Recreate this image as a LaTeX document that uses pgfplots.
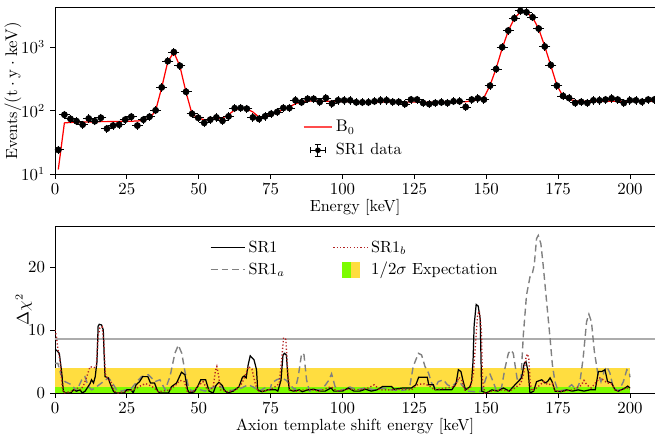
\documentclass[border=0pt]{standalone}
\usepackage{pgfplots}
\usepackage{pgfplotstable}
\pgfplotsset{compat=1.18}
\definecolor{myyellow}{RGB}{255,221,64}
\definecolor{mygreen}{RGB}{124,252,0}
\definecolor{sronebc}{RGB}{178,34,34}
\definecolor{sroneac}{RGB}{128,128,128}
\newcommand{\fs}{\fontsize{10.5}{12.6}\selectfont}

\pgfplotstableread{
x y b
1.15 24 11.8
3.27 86 64
5.38 74 65
7.50 68 65.5
9.61 60 66
11.73 75 66
13.84 68 66.5
15.96 77 67
18.07 52 67
20.19 58 67.5
22.30 60 67.5
24.42 72 68
26.53 80 68
28.65 58 68.5
30.76 72 70
32.88 80 75
34.99 101 100
37.11 232 230
39.22 603 590
41.34 836 830
43.45 509 500
45.57 198 195
47.68 89 88
49.80 77 76
51.91 64 72
54.03 72 72
56.14 78 74
58.26 69 77
60.37 81 85
62.49 109 104
64.60 110 108
66.72 107 107
68.83 78 95
70.95 74 79
73.06 81 80
75.18 89 86
77.29 95 94
79.41 110 104
81.52 110 115
83.64 145 128
85.75 135 138
87.87 153 142
89.98 153 142
92.10 137 141
94.21 158 140
96.33 129 140
98.44 145 139
100.56 145 139
102.67 145 138
104.79 135 138
106.90 135 137
109.02 135 137
111.13 140 137
113.25 145 137
115.36 145 137
117.48 137 136
119.59 137 136
121.71 127 136
123.82 149 136
125.94 149 136
128.05 132 136
130.17 127 136
132.28 132 136
134.40 135 136
136.51 132 137
138.63 140 137
140.74 140 138
142.86 114 138
144.97 149 142
147.09 156 148
149.20 149 160
151.32 247 250
153.43 452 460
155.55 1000 960
157.66 1827 1800
159.78 2860 2850
161.89 3725 3600
164.01 3550 3500
166.12 2965 2950
168.24 1965 1950
170.35 1024 1030
172.47 522 510
174.58 247 250
176.70 170 168
178.81 158 150
180.93 132 143
183.04 137 140
185.16 132 140
187.27 145 140
189.39 145 140
191.50 149 140
193.62 156 140
195.73 149 140
197.85 132 140
199.96 145 140
202.08 145 140
204.19 138 140
206.31 149 140
208.42 149 140
}\topdata

\pgfplotstableread{
x v
0 6.9
0.5 6.8
1.5 6.3
2.3 3.4
2.9 0.3
3.5 0
5.5 0
6.4 0.5
7.5 0.3
8.7 0.5
9.5 0
10.5 0.3
11.2 0.8
12.2 1.5
12.7 2.1
13.4 1.6
14.0 2.6
14.6 5
15.0 10.6
15.4 10.9
16.2 10.8
16.8 10.0
17.1 6
17.4 2.6
18.5 2.4
19.1 1.6
20.3 0.3
21 0
24 0
25 0.5
26.5 0.5
27.2 0
28.2 1.3
29.4 1.8
30.5 2.6
32.3 2.6
33.2 1.6
34.6 1.6
35.7 0.3
36.5 0
39.5 0
40.5 1.0
42.3 1.6
43.2 2.5
44.0 3.3
45.2 2.9
46.1 0.5
46.8 0
48.5 0.2
49.8 1.2
50.7 2.1
52.4 2.1
53.6 0.3
55 0
56 1.2
57 1.7
58.2 1.2
58.8 0.5
60 0
62 0.3
64 1.0
65.2 2.5
65.8 2.7
66.5 2.4
67.2 4.5
67.9 5.9
69.2 5.3
70.1 3.7
70.5 0.5
72 0.2
74 0.5
76.8 0.5
77.5 0.3
78.6 2
79.3 6.0
79.8 6.3
80.5 6.0
81 2.6
81.5 0.5
83 0.3
85 0.5
86 0.2
88 0.5
90 0.6
92 0.3
94 0.3
96 0.8
97 0.3
100 0.3
102 0.8
104 0.3
106 0.3
108 0.6
110 0.3
112 0.5
114 1.05
117 1.05
118 0.6
121 0.8
124 0.8
125.5 1.3
126.5 2.5
129.5 2.5
130 1.3
131.6 1.3
132.2 0.5
135 0.5
138 0.5
139.5 1.5
140.3 3.7
141.2 3.4
142 1.8
142.8 0.5
144.3 1.0
144.9 1.8
145.4 5
145.8 10.8
146.5 14.05
147.2 13.8
147.9 11.8
148.2 5
148.4 0.3
150 0
152 0.5
154 0.3
156 0.8
158 0.3
160 1.3
161.5 2
162.3 2.4
163.2 4.7
163.8 5.0
164.6 3.4
165.2 0
166.5 0.3
167.5 1.8
169.3 2.1
170.4 1.6
171.3 1.8
172.2 2.4
172.9 1.8
173.9 0.3
176 0.2
178 0.5
180 0.3
182 0.5
184 0.3
186 0.5
187.9 0.5
188.4 1.8
189 3.4
190.2 3.4
191.3 3.7
192.2 1.8
193.6 1.6
194.8 0.5
196 0.3
198.3 0.8
199.2 1.1
200 0.8
}\srone

\pgfplotstableread{
x v
0 4.7
1.0 4.7
2 3
3.5 1.8
5.8 1.3
7.5 0.3
9.3 2.1
10.4 2.6
11.6 1.05
12.8 0.5
13.9 0.8
16.8 1.8
18.6 2.4
19.7 1.8
21.4 0.5
23.2 0.3
26.7 0.8
28.5 1.8
30.1 2.6
32.5 2.9
34.8 1.8
36.5 2.1
38.3 0.5
40 2.6
41.7 6.3
42.9 7.6
44.1 6.3
45.2 3.4
46.4 1.05
47.5 0.3
49.9 0.6
52.2 0.3
54.5 0.8
56.8 1.3
59.1 0.5
61.4 0.4
64.9 0.8
67.2 1.3
69 0.95
71 0.3
73 0.8
74.8 0.5
75.4 1.6
77.1 2.1
78.8 2.4
80.5 2.0
81.7 1.3
83.5 0.5
84.6 2.6
85.8 6.3
86.6 6.1
87.5 2.1
88.5 0.3
91 0.5
93 0.6
95.2 2.0
96.2 3.05
97.4 1.05
98.5 0.3
100 0.5
102.6 0.95
105 0.5
108 0.8
111 0.5
114 0.8
117 0.5
120 0.4
122 0.5
123.5 1.3
124.6 4.2
126.4 6.3
127.5 6.05
128.7 4.2
129.9 3.2
131 1.6
132.2 0.8
133.3 1.8
135.1 2.1
136.5 1.3
138 1
140.3 2.0
142 1.0
143.7 0.3
146 0.2
148.4 0.3
150.1 2.6
151.3 3.0
152.4 1.8
153.6 0.3
155.3 0.8
156.5 3.9
157.7 6.3
158.6 6.8
159.4 6.3
160 4.5
160.9 1.8
162.1 2.4
162.9 9.2
164 15.5
165.2 18.4
166 18.9
166.7 20.3
167.5 24.5
168.1 25.0
169 23.7
169.8 20.3
171 14.5
172.2 8.7
173 4.5
173.9 1.8
175 0.3
177.4 0.5
179.7 1.3
181.4 0.5
182.6 1.8
183.7 5.5
184.9 11.3
185.7 12.5
186.6 11.3
187.6 6.6
188.7 3.4
189.9 1.8
191 3.4
191.9 4.2
193 3.2
194.2 0.8
196 0.3
197.7 1.8
198.9 3.7
199.7 3.4
200 2.5
}\sronea

\pgfplotstableread{
x v
0 10
0.5 9
1.0 7
1.8 5
2.5 1
3 0
6 0.3
8 0.8
9 0.5
10 1.3
11 2.5
12.2 4.2
13.5 4.0
14.4 4.2
15 9
15.6 10.3
16.4 10.5
17 8
17.5 3
18.5 2.1
19.5 1.8
20.5 0.3
22 0
25 0.3
27 0.5
28.5 0.8
30 1.2
31.5 1.5
33 1.2
34.5 0.8
36 0.2
40 0.5
42 1.3
43.5 2.0
45 1.8
46 0.3
48 0.2
50 1.2
51.5 1.8
53 0.5
55 0.8
55.8 3.5
56.3 4.2
57 2.5
57.5 0.5
60 0.2
63 0.5
65 1.5
66.5 3.2
67.3 4.2
68.5 3.8
69.5 1.8
70.5 0.3
73 0.3
76 0.8
78 1.5
79 6
79.5 8.8
80.3 8.5
81 3
81.7 0.5
84 0.3
88 0.6
92 0.3
96 1.0
98 0.3
102 0.6
106 0.5
109 0.8
111 1.3
113 0.5
117 0.5
121 0.6
124 0.5
126 1.3
128 1.5
130 1.2
132 0.5
136 0.8
139 1
140.5 2.5
141.5 2.0
142.5 0.5
144.5 0.8
145.5 3
146.3 8
147 12.5
147.6 13.0
148.3 10
148.7 2
149.5 0
152 0.3
155 0.5
158 0.3
160 0.8
162 1.5
163 3
163.8 5.5
164.3 6.2
164.8 5.5
165.3 1.5
166 0.3
168 1.0
170 1.8
171.5 1.3
173 1.5
174 0.3
177 0.3
180 0.5
183 1.2
184 2.0
185 1.3
186.5 0.8
188 1.6
189.5 2.4
191 2.0
192 1.6
193.5 1.5
195 0.3
197 0.5
199 0.8
200 0.6
}\sroneb

\begin{document}
\begin{tikzpicture}
\pgfplotsset{
  every axis/.append style={
    scale only axis, width=390pt, height=108.55pt,
    xmin=0, xmax=208.7,
    tick align=outside, tick pos=left,
    major tick length=3pt,
    axis line style={line width=0.6pt},
    every tick/.style={black, line width=0.6pt},
    tick label style={font=\fs},
    label style={font=\fs},
    legend style={font=\fs, draw=none, fill=none},
    legend cell align=left,
    xtick={0,25,...,200},
  }
}
\begin{axis}[name=top, ymode=log, ymin=10, ymax=4300, yminorticks=false,
  ytick={10,100,1000},
  xlabel={Energy [keV]},
  xlabel style={yshift=4pt},
  ylabel={Events$/(\mathrm{t}\cdot\mathrm{y}\cdot\mathrm{keV})$},
  ylabel style={at={(axis description cs:-0.07,0.5)}, anchor=center},
  legend style={at={(0.405,0.36)}, anchor=north west, row sep=2pt},
  ]
\addplot[red, line width=0.8pt, forget plot] table[x=x, y=b] {\topdata};
\addplot[black, only marks, mark=*, mark size=2pt, forget plot,
  error bars/.cd, x dir=both, x fixed=1.06, y dir=both, y fixed relative=0.06,
  error bar style={line width=0.6pt, black},
  error mark options={line width=0.6pt, mark size=1.6pt, black}]
  table[x=x, y=y] {\topdata};
\addlegendimage{legend image code/.code={\draw[red!70, line width=1pt] (0cm,0cm) -- (0.65cm,0cm);}}
\addlegendentry{$\mathrm{B}_0$}
\addlegendimage{legend image code/.code={
  \draw[black, line width=0.6pt] (0.15cm,0cm) -- (0.5cm,0cm);
  \draw[black, line width=0.6pt] (0.325cm,-0.14cm) -- (0.325cm,0.14cm);
  \draw[black, line width=0.6pt] (0.15cm,-0.07cm) -- (0.15cm,0.07cm);
  \draw[black, line width=0.6pt] (0.5cm,-0.07cm) -- (0.5cm,0.07cm);
  \draw[black, line width=0.6pt] (0.255cm,-0.14cm) -- (0.395cm,-0.14cm);
  \draw[black, line width=0.6pt] (0.255cm,0.14cm) -- (0.395cm,0.14cm);
  \fill[black] (0.325cm,0cm) circle (1.6pt);}}
\addlegendentry{SR1 data}
\end{axis}

\begin{axis}[name=bot, at={(0,-33.8pt)}, anchor=north west,
  ymin=0, ymax=26.5, ytick={0,10,20},
  xlabel={Axion template shift energy [keV]},
  xlabel style={yshift=4pt},
  ylabel={$\Delta\chi^2$},
  ylabel style={at={(axis description cs:-0.052,0.5)}, anchor=center},
  legend columns=2,
  legend style={at={(0.25,0.95)}, anchor=north west, row sep=1pt,
    /tikz/every even column/.append style={column sep=29pt}},
  ]
\addplot[fill=myyellow, draw=none, forget plot] coordinates {(0,4) (200,4)} \closedcycle;
\addplot[fill=mygreen, draw=none, forget plot] coordinates {(0,1) (200,1)} \closedcycle;
\addplot[gray!65, line width=1pt, forget plot] coordinates {(-5,8.6) (215,8.6)};
\addplot[sroneac, line width=0.9pt, dash pattern=on 4.5pt off 2.6pt, forget plot]
  table[x=x, y=v] {\sronea};
\addplot[black, line width=0.8pt, forget plot]
  table[x=x, y=v] {\srone};
\addplot[sronebc, line width=0.9pt, dash pattern=on 0.8pt off 1.4pt, forget plot]
  table[x=x, y=v] {\sroneb};
\addlegendimage{legend image code/.code={\draw[black, line width=0.8pt] (0cm,0cm) -- (0.78cm,0cm);}}
\addlegendentry{SR1}
\addlegendimage{legend image code/.code={\draw[sronebc, line width=0.9pt, dash pattern=on 0.8pt off 1.4pt] (0cm,0cm) -- (0.78cm,0cm);}}
\addlegendentry{SR1$_b$}
\addlegendimage{legend image code/.code={\draw[sroneac, line width=0.9pt, dash pattern=on 4.5pt off 2.6pt] (0cm,0cm) -- (0.78cm,0cm);}}
\addlegendentry{SR1$_a$}
\addlegendimage{legend image code/.code={
  \fill[white, opacity=0] (0cm,-0.17cm) rectangle (0.78cm,0.17cm);
  \fill[mygreen] (0.2cm,-0.17cm) rectangle (0.4cm,0.17cm);
  \fill[myyellow] (0.4cm,-0.17cm) rectangle (0.6cm,0.17cm);}}
\addlegendentry{$1/2\sigma$ Expectation}
\end{axis}
\pgfresetboundingbox
\path[use as bounding box] (-35.75pt,-168.8pt) rectangle (390pt,113.1pt);
\end{tikzpicture}
\end{document}
